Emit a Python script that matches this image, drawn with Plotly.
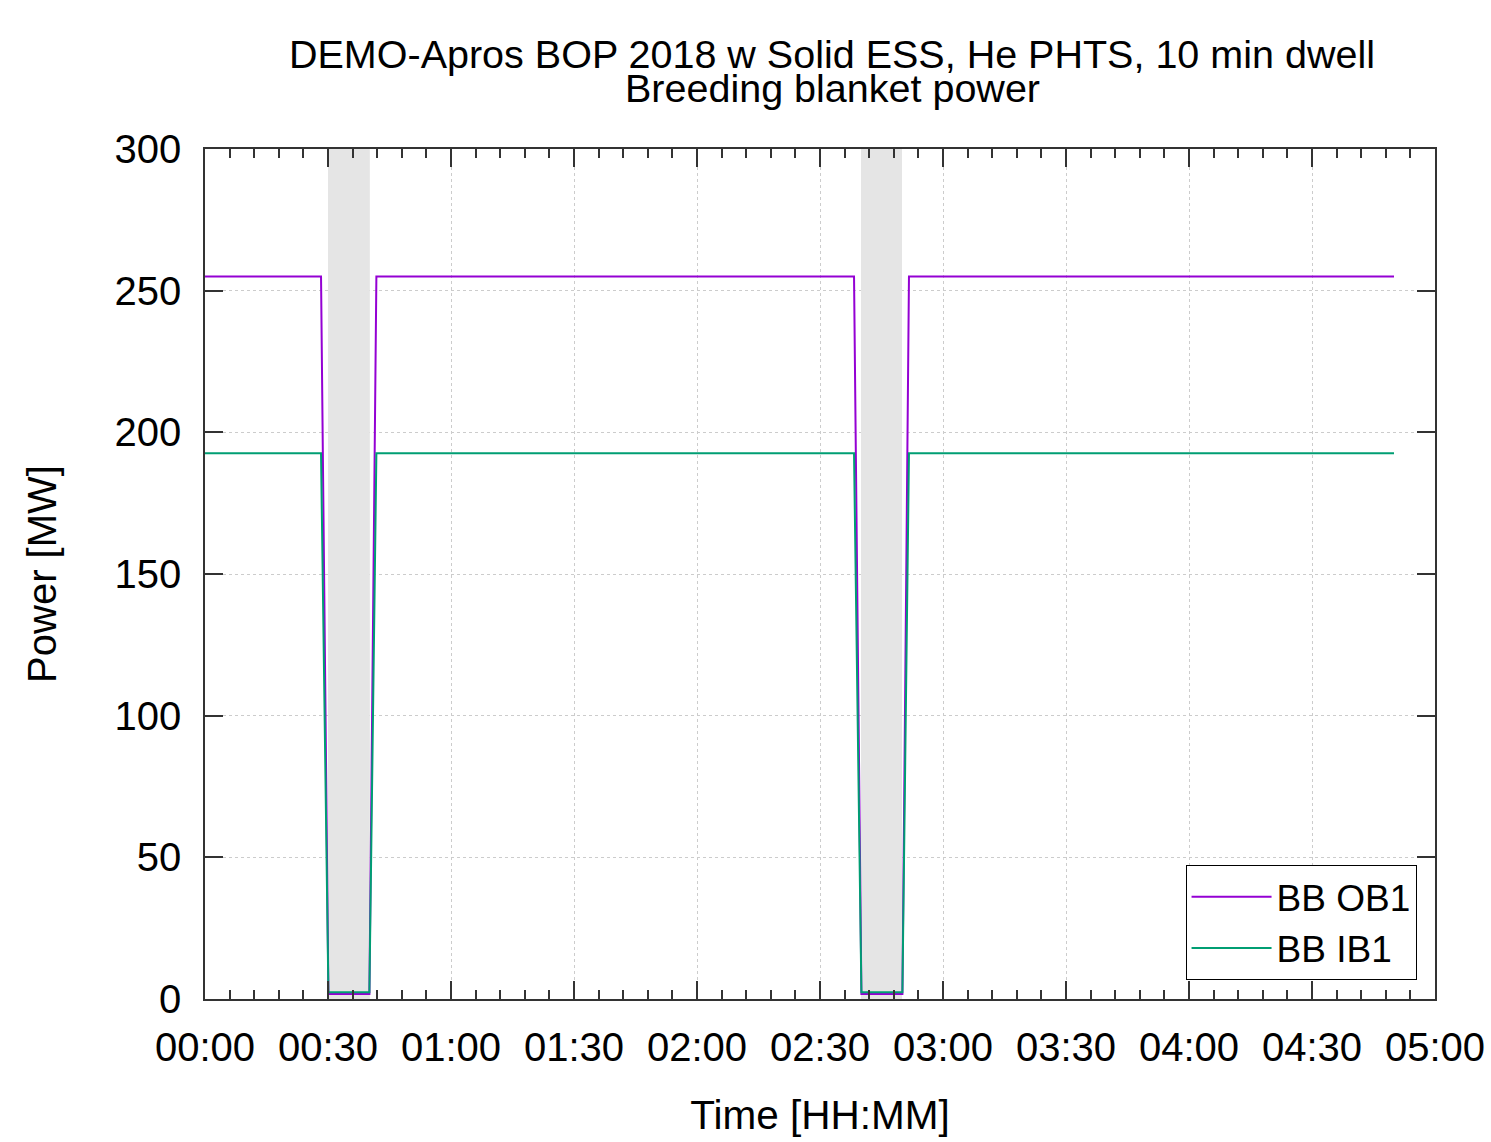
import plotly.graph_objects as go

# ---- data (time in minutes) ----
ob1_time = [0, 28.3, 30.1, 40.1, 41.8, 158.3, 160.1, 170.1, 171.7, 290]
ob1_power = [255, 255, 1.8, 1.8, 255, 255, 1.8, 1.8, 255, 255]
ib1_time = [0, 28.3, 30.1, 40.1, 41.8, 158.3, 160.1, 170.1, 171.7, 290]
ib1_power = [192.6, 192.6, 2.4, 2.4, 192.6, 192.6, 2.4, 2.4, 192.6, 192.6]

dwell_start = [30, 160]
dwell_end = [40.2, 170]

x_tickvals = [0, 30, 60, 90, 120, 150, 180, 210, 240, 270, 300]
x_ticktext = ["00:00", "00:30", "01:00", "01:30", "02:00", "02:30",
              "03:00", "03:30", "04:00", "04:30", "05:00"]
y_tickvals = [0, 50, 100, 150, 200, 250, 300]

FONT = "Liberation Sans, Arial, sans-serif"

fig = go.Figure()
fig.add_trace(go.Scatter(x=ob1_time, y=ob1_power, mode="lines", name="BB OB1",
                         line=dict(color="#9400D3", width=2)))
fig.add_trace(go.Scatter(x=ib1_time, y=ib1_power, mode="lines", name="BB IB1",
                         line=dict(color="#009E73", width=2)))

for s, e in zip(dwell_start, dwell_end):
    fig.add_shape(type="rect", xref="x", yref="y", x0=s, x1=e, y0=0, y1=300,
                  fillcolor="#e5e5e5", line=dict(width=0), layer="between")

fig.add_annotation(text="DEMO-Apros BOP 2018 w Solid ESS, He PHTS, 10 min dwell",
                   xref="paper", yref="paper", x=0.5098, y=1.1115,
                   xanchor="center", yanchor="middle", showarrow=False,
                   font=dict(size=39.5, color="black", family=FONT))
fig.add_annotation(text="Breeding blanket power",
                   xref="paper", yref="paper", x=0.5098, y=1.0715,
                   xanchor="center", yanchor="middle", showarrow=False,
                   font=dict(size=39.5, color="black", family=FONT))

axis_common = dict(showline=True, linecolor="#333333", linewidth=1.5, mirror="ticks",
                   ticks="inside", tickcolor="#333333", tickwidth=1.5, ticklen=18,
                   showgrid=True, gridcolor="#cccccc", gridwidth=1, griddash="dot",
                   zeroline=False, automargin=False, ticklabeloverflow="allow",
                   tickfont=dict(size=40, color="black", family=FONT))

fig.update_xaxes(range=[0, 300], tickmode="array", tickvals=x_tickvals, ticktext=x_ticktext,
                 minor=dict(dtick=6, ticks="inside", ticklen=9, tickcolor="#333333",
                            tickwidth=1.5, showgrid=False),
                 title=dict(text="Time [HH:MM]", font=dict(size=40.5, color="black", family=FONT),
                            standoff=33),
                 ticklabelstandoff=12, **axis_common)
fig.update_yaxes(range=[0, 300], tickmode="array", tickvals=y_tickvals,
                 title=dict(text="Power [MW]", font=dict(size=40, color="black", family=FONT),
                            standoff=46),
                 ticklabelstandoff=14, **axis_common)

fig.update_layout(
    width=1491, height=1142,
    margin=dict(l=205, r=56, t=149, b=143),
    paper_bgcolor="white", plot_bgcolor="white",
    font=dict(family=FONT, color="black"),
    showlegend=True,
    legend=dict(x=0.985, y=0.022, xanchor="right", yanchor="bottom",
                bgcolor="white", bordercolor="black", borderwidth=1,
                font=dict(size=37, color="black", family=FONT),
                tracegroupgap=0, itemwidth=80),
)

fig.write_html("out.html")
